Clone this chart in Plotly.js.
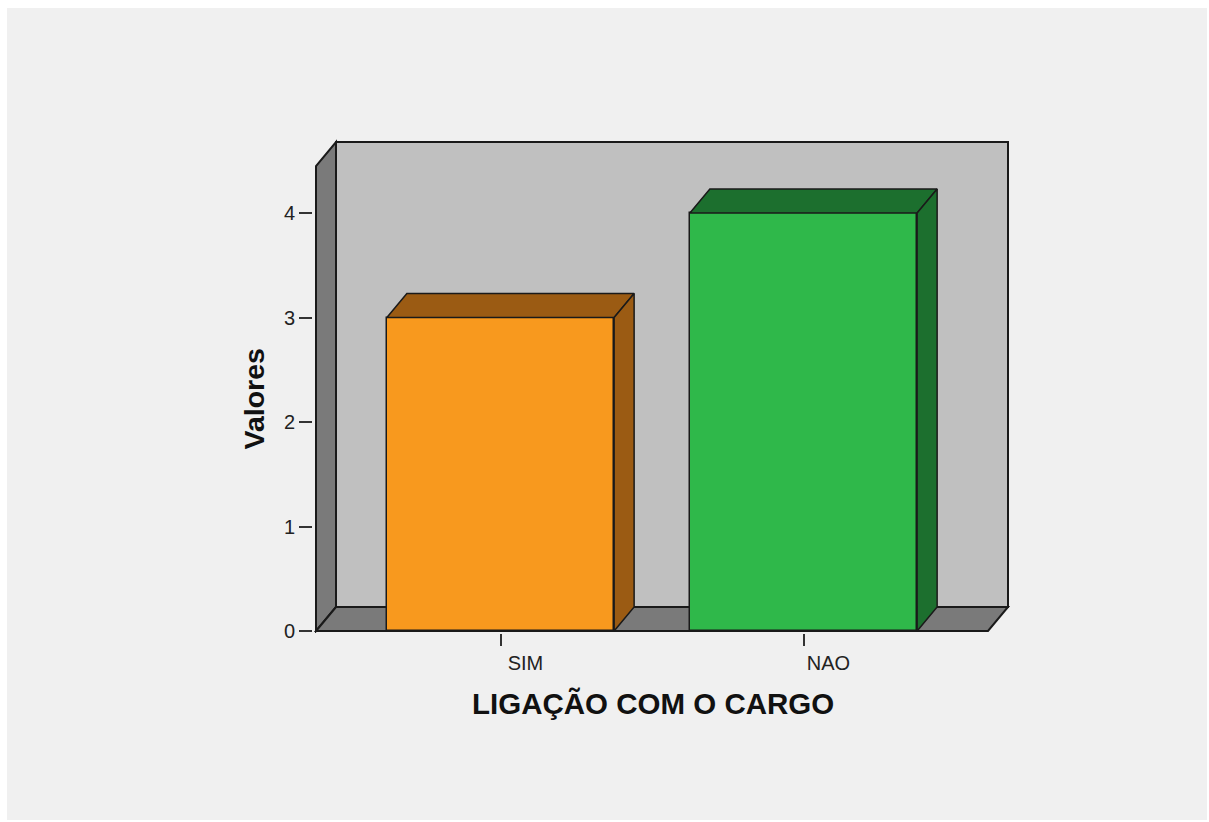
<!DOCTYPE html>
<html>
<head>
<meta charset="utf-8">
<script src="https://cdn.plot.ly/plotly-3.0.1.min.js"></script>
<style>
  html, body { margin: 0; padding: 0; background: #ffffff; }
  #chart { position: absolute; left: 7px; top: 8px; width: 1200px; height: 812px; }
</style>
</head>
<body>
<div id="chart"></div>
<script>
// ---- data ----
const categories = ['SIM', 'NAO'];
const values = [3, 4];
const yTickVals = [0, 1, 2, 3, 4];
const yTickText = ['0', '1', '2', '3', '4'];
const xTitle = 'LIGAÇÃO COM O CARGO';
const yTitle = 'Valores';

// ---- styles / 3D geometry (axis units) ----
const frontColors = ['#f8991e', '#2fb84a'];
const shadeColors = ['#9b5b13', '#1c6f2e'];
const edge = '#1a1a1a';
const DX = 0.066;      // depth offset along x
const DY = 0.2297;     // depth offset along y
const W = 0.75;        // bar width
const XL = -0.6089;    // front-left corner of floor
const XR = 1.6089;     // front-right corner of floor
const YT = 4.679;      // top of back wall

const xpos = categories.map((_, i) => i);

const traces = [];
traces.push({
  type: 'bar', x: xpos, y: values, width: W,
  marker: { color: frontColors, line: { color: edge, width: 1.5 } },
  hoverinfo: 'x+y', showlegend: false
});
values.forEach((v, i) => {
  const l = xpos[i] - W / 2, r = xpos[i] + W / 2;
  traces.push({
    type: 'scatter', mode: 'lines', fill: 'toself', fillcolor: shadeColors[i],
    x: [l, l + DX, r + DX, r, l], y: [v, v + DY, v + DY, v, v],
    line: { color: edge, width: 1.5 }, hoverinfo: 'skip', showlegend: false
  });
  traces.push({
    type: 'scatter', mode: 'lines', fill: 'toself', fillcolor: shadeColors[i],
    x: [r, r + DX, r + DX, r, r], y: [0, DY, v + DY, v, 0],
    line: { color: edge, width: 1.5 }, hoverinfo: 'skip', showlegend: false
  });
});

function path(pts) {
  return 'M' + pts.map(p => p[0] + ',' + p[1]).join(' L') + ' Z';
}

const shapes = [
  { type: 'path', layer: 'below', xref: 'x', yref: 'y', fillcolor: '#c0c0c0',
    line: { color: edge, width: 2 },
    path: path([[XL + DX, DY], [XR + DX, DY], [XR + DX, YT], [XL + DX, YT]]) },
  { type: 'path', layer: 'below', xref: 'x', yref: 'y', fillcolor: '#7a7a7a',
    line: { color: edge, width: 2 },
    path: path([[XL, 0], [XL + DX, DY], [XL + DX, YT], [XL, YT - DY]]) },
  { type: 'path', layer: 'below', xref: 'x', yref: 'y', fillcolor: '#7a7a7a',
    line: { color: edge, width: 2 },
    path: path([[XL, 0], [XR, 0], [XR + DX, DY], [XL + DX, DY]]) }
];

const fontFam = 'Liberation Sans, Arial, sans-serif';
const titleFont = (s) => ({ family: fontFam, size: s, color: '#111', weight: 'bold' });
const layout = {
  width: 1200, height: 812,
  margin: { l: 306, r: 196, t: 131, b: 187 },
  paper_bgcolor: '#f0f0f0', plot_bgcolor: '#f0f0f0',
  showlegend: false,
  bargap: 0,
  xaxis: {
    range: [-0.6188, 1.6848], tickvals: xpos, ticktext: categories,
    ticks: 'outside', ticklen: 12, tickwidth: 1.5, tickcolor: '#333',
    showline: false, showgrid: false, zeroline: false,
    ticklabelshift: 25,
    tickfont: { family: fontFam, size: 20, color: '#222' }
  },
  yaxis: {
    range: [-0.0191, 4.7081], tickvals: yTickVals, ticktext: yTickText,
    ticks: 'outside', ticklen: 13, tickwidth: 1.5, tickcolor: '#333',
    showline: false, showgrid: false, zeroline: false,
    tickfont: { family: fontFam, size: 20, color: '#222' }
  },
  annotations: [
    { text: xTitle, xref: 'paper', yref: 'paper', x: 0.4864, y: -0.1437,
      xanchor: 'center', yanchor: 'middle', showarrow: false, font: titleFont(29.5) },
    { text: yTitle, xref: 'paper', yref: 'paper', x: -0.0845, y: 0.4727,
      xanchor: 'center', yanchor: 'middle', textangle: -90, showarrow: false,
      font: titleFont(28.5) }
  ],
  shapes: shapes
};

Plotly.newPlot('chart', traces, layout, { displayModeBar: false });
</script>
</body>
</html>
